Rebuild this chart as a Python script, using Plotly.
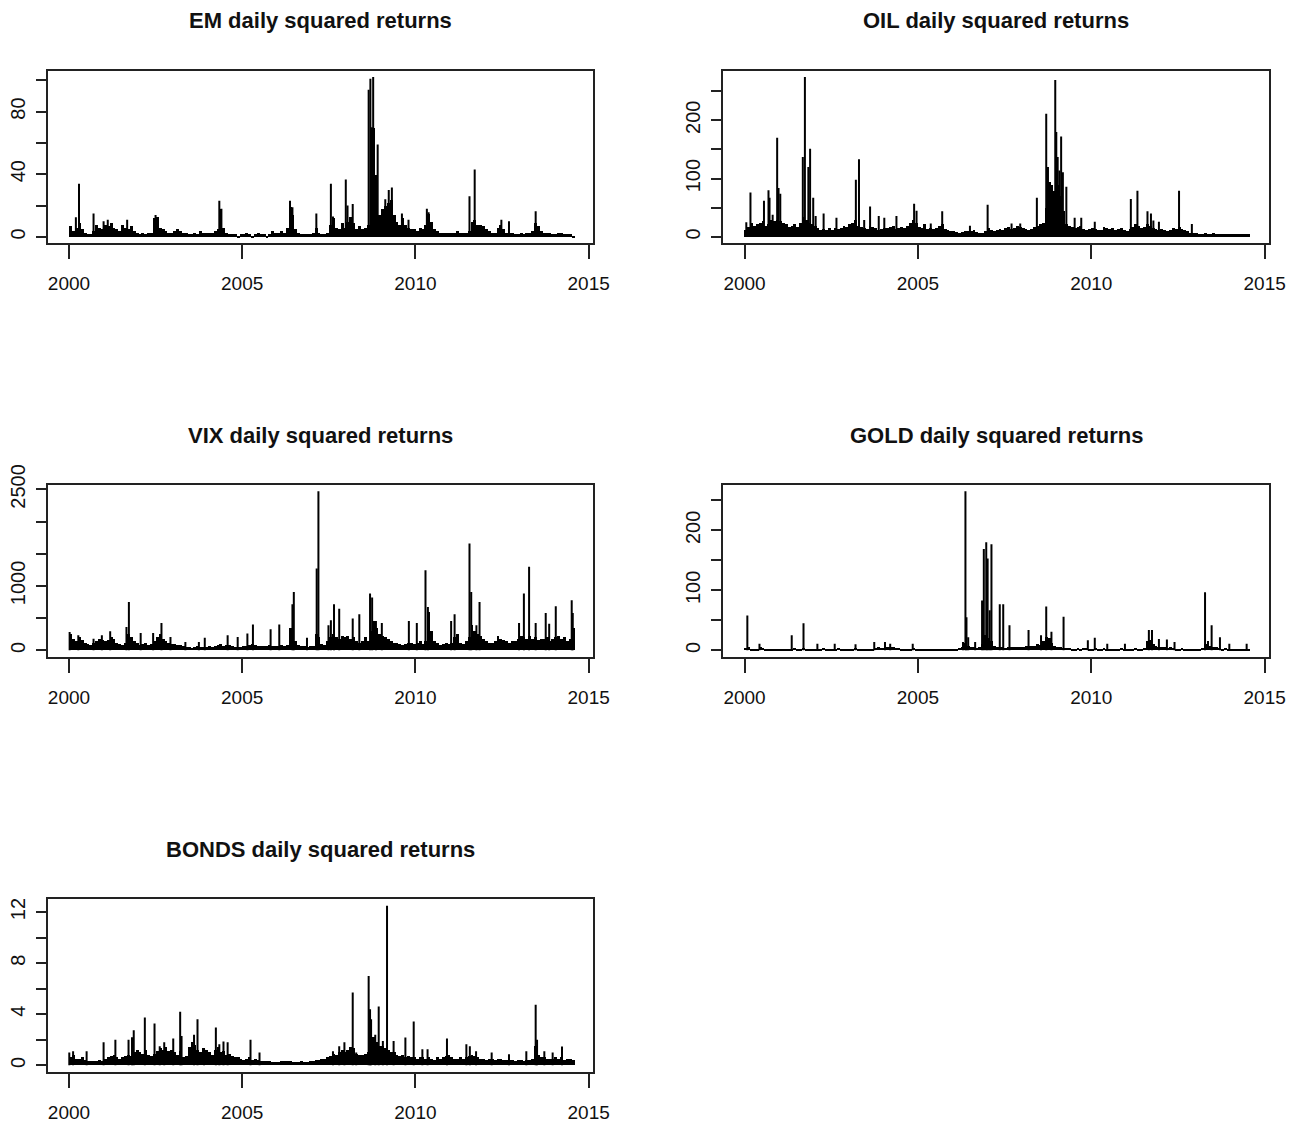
import plotly.graph_objects as go

# ---------------- data ----------------
# monthly "body" level of the squared-return forest, Jan 2000 .. Jul 2014
em_monthly = [
    7, 4, 6, 9, 5, 3, 2, 2, 4, 8, 6, 5,
    8, 7, 9, 6, 5, 4, 8, 6, 5, 7, 4, 3,
    2, 3, 2, 3, 3, 12, 13, 6, 5, 4, 3, 3,
    4, 5, 4, 3, 3, 2, 2, 3, 2, 4, 3, 3,
    3, 3, 4, 5, 18, 6, 3, 2, 2, 2, 1, 2,
    2, 3, 2, 1, 2, 3, 2, 2, 1, 2, 4, 3,
    3, 4, 3, 6, 19, 14, 5, 3, 2, 2, 2, 2,
    3, 6, 3, 2, 2, 3, 8, 12, 6, 5, 9, 6,
    10, 13, 9, 5, 7, 5, 6, 8, 25, 70, 40, 14,
    18, 20, 22, 24, 14, 10, 8, 12, 8, 6, 5, 5,
    4, 6, 5, 8, 15, 10, 5, 4, 3, 3, 3, 3,
    3, 3, 4, 3, 3, 3, 4, 10, 11, 8, 8, 7,
    5, 4, 3, 3, 6, 8, 5, 3, 3, 3, 2, 2,
    3, 2, 3, 3, 4, 9, 7, 4, 3, 3, 3, 2,
    2, 3, 3, 2, 2, 2, 1,
]
em_spike_t = [2000.20, 2000.29, 2000.71, 2001.00, 2001.12, 2001.68, 2002.50, 2004.34,
              2004.40, 2006.38, 2006.45, 2007.14, 2007.56, 2007.62, 2007.99, 2008.04,
              2008.19, 2008.65, 2008.70, 2008.74, 2008.78, 2008.91, 2009.13, 2009.23,
              2009.32, 2009.61, 2009.80, 2010.33, 2010.38, 2011.56, 2011.71, 2012.48,
              2012.70, 2013.47]
em_spike_v = [12.5, 34, 15, 10, 11, 11, 14, 23,
              18, 23, 19, 15, 34, 13, 36.6, 20,
              21, 94, 101, 70, 102, 59, 24, 30,
              31.5, 15, 11, 18, 15.7, 26, 43, 11,
              10, 16.4]

oil_monthly = [
    12, 18, 25, 20, 22, 25, 28, 20, 22, 30, 28, 30,
    28, 25, 22, 18, 20, 22, 18, 25, 35, 30, 25, 22,
    20, 15, 12, 14, 12, 15, 12, 15, 14, 15, 20, 18,
    22, 25, 30, 20, 18, 15, 14, 20, 18, 15, 12, 14,
    16, 15, 18, 20, 14, 15, 18, 16, 20, 25, 30, 25,
    18, 16, 22, 14, 15, 14, 16, 20, 22, 14, 12, 10,
    10, 9, 8, 9, 10, 11, 10, 12, 9, 8, 8, 10,
    15, 12, 10, 12, 14, 12, 15, 18, 14, 16, 20, 18,
    15, 14, 12, 14, 18, 20, 22, 25, 50, 95, 90, 80,
    90, 70, 45, 22, 20, 18, 16, 18, 20, 14, 12, 14,
    15, 14, 12, 12, 18, 16, 14, 15, 12, 14, 15, 12,
    10, 14, 18, 22, 20, 15, 18, 22, 20, 16, 14, 12,
    14, 12, 10, 12, 16, 14, 18, 14, 12, 10, 8, 8,
    7, 6, 6, 7, 6, 6, 7, 6, 5, 6, 5, 5,
    5, 5, 6, 5, 5, 5, 5,
]
oil_spike_t = [2000.05, 2000.17, 2000.56, 2000.69, 2000.72, 2000.81, 2000.94, 2000.98,
               2001.03, 2001.68, 2001.74, 2001.84, 2001.89, 2001.98, 2002.05, 2002.28,
               2002.65, 2003.21, 2003.30, 2003.45, 2003.62, 2003.87, 2004.03, 2004.38,
               2004.89, 2004.96, 2005.37, 2005.70, 2006.50, 2007.01, 2007.70, 2007.95,
               2008.43, 2008.70, 2008.75, 2008.83, 2008.96, 2008.99, 2009.03, 2009.08,
               2009.13, 2009.18, 2009.28, 2009.52, 2009.71, 2010.10, 2011.14, 2011.33,
               2011.62, 2011.72, 2011.79, 2011.95, 2012.53, 2012.90]
oil_spike_v = [25, 76, 62, 80, 67, 38, 170, 84,
               74, 137, 274, 120, 151, 67, 36, 40,
               33, 98, 133, 29, 52, 36, 33, 36,
               57, 45, 23, 44, 19, 55, 23, 23,
               67, 211, 120, 56, 269, 180, 137, 114,
               172, 111, 86, 33, 33, 26, 65, 79,
               44, 40, 28, 26, 79, 22]

vix_monthly = [
    250, 180, 150, 200, 160, 120, 100, 80, 120, 140, 180, 160,
    150, 160, 200, 180, 120, 100, 90, 120, 250, 200, 150, 120,
    80, 100, 120, 80, 100, 150, 200, 250, 180, 150, 120, 100,
    100, 80, 90, 60, 50, 45, 40, 45, 60, 50, 55, 50,
    60, 55, 70, 80, 100, 70, 90, 80, 60, 55, 50, 45,
    60, 70, 80, 100, 90, 70, 60, 65, 60, 80, 70, 60,
    70, 80, 60, 90, 350, 250, 150, 90, 70, 60, 55, 60,
    70, 250, 200, 100, 80, 150, 200, 250, 200, 180, 220, 200,
    220, 180, 200, 150, 120, 140, 200, 150, 300, 450, 350, 250,
    220, 200, 180, 150, 120, 110, 100, 90, 100, 120, 110, 100,
    120, 150, 100, 150, 600, 300, 150, 110, 90, 100, 110, 100,
    120, 200, 250, 120, 100, 150, 200, 400, 300, 250, 220, 180,
    150, 120, 110, 150, 220, 180, 160, 150, 120, 140, 150, 180,
    220, 200, 180, 220, 180, 200, 160, 170, 180, 200, 150, 180,
    200, 220, 180, 200, 150, 180, 350,
]
vix_spike_t = [2000.02, 2000.27, 2000.71, 2000.95, 2001.19, 2001.66, 2001.73, 2002.07,
               2002.43, 2002.67, 2002.93, 2003.36, 2003.75, 2003.92, 2004.58, 2004.87,
               2005.15, 2005.31, 2005.82, 2006.07, 2006.45, 2006.49, 2006.87, 2007.15,
               2007.20, 2007.49, 2007.56, 2007.65, 2007.80, 2008.19, 2008.38, 2008.69,
               2008.75, 2008.86, 2009.03, 2009.81, 2010.04, 2010.29, 2010.36, 2011.03,
               2011.13, 2011.56, 2011.61, 2011.76, 2011.85, 2012.99, 2013.13, 2013.28,
               2013.47, 2013.76, 2013.86, 2014.05, 2014.51, 2014.54]
vix_spike_v = [285, 233, 180, 233, 295, 363, 752, 270,
               270, 425, 207, 130, 130, 197, 233, 207,
               260, 400, 327, 400, 716, 907, 197, 1270,
               2470, 389, 467, 716, 648, 493, 560, 882,
               820, 456, 425, 456, 425, 1245, 674, 456,
               560, 1660, 907, 389, 752, 425, 882, 1297,
               425, 581, 415, 685, 778, 581]

gold_monthly = [
    4, 6, 3, 2, 3, 5, 4, 3, 2, 2, 2, 2,
    2, 2, 2, 2, 3, 4, 2, 3, 4, 3, 2, 2,
    2, 2, 3, 4, 3, 3, 2, 3, 4, 3, 2, 3,
    3, 3, 4, 3, 2, 3, 2, 2, 3, 4, 5, 4,
    4, 5, 6, 5, 4, 4, 3, 3, 2, 3, 4, 3,
    2, 2, 3, 2, 2, 2, 3, 2, 2, 3, 2, 3,
    3, 3, 4, 5, 12, 8, 6, 5, 4, 6, 10, 25,
    20, 15, 8, 6, 5, 5, 4, 5, 5, 6, 6, 5,
    6, 7, 8, 7, 8, 10, 9, 15, 22, 20, 12, 8,
    6, 5, 4, 4, 4, 3, 3, 4, 3, 4, 4, 3,
    3, 4, 3, 3, 4, 3, 3, 3, 3, 3, 4, 3,
    3, 3, 3, 4, 3, 3, 4, 15, 18, 10, 7, 6,
    5, 5, 4, 5, 4, 3, 3, 4, 3, 3, 3, 3,
    3, 3, 4, 10, 15, 8, 6, 5, 4, 3, 4, 3,
    3, 3, 3, 3, 2, 2, 3,
]
gold_spike_t = [2000.08, 2000.43, 2001.36, 2001.70, 2002.10, 2002.60, 2003.20, 2003.74,
                2004.05, 2004.20, 2004.85, 2006.30, 2006.37, 2006.40, 2006.45, 2006.65,
                2006.85, 2006.90, 2006.97, 2007.01, 2007.07, 2007.12, 2007.36, 2007.46,
                2007.64, 2008.19, 2008.55, 2008.70, 2008.85, 2009.20, 2009.90, 2010.10,
                2010.46, 2010.97, 2011.66, 2011.75, 2011.95, 2012.18, 2012.40, 2013.28,
                2013.47, 2013.71, 2013.98, 2014.48]
gold_spike_v = [58, 11, 25, 45, 11, 11, 10, 14,
                14, 11, 11, 14, 265, 55, 22, 14,
                83, 169, 180, 153, 67, 177, 77, 77,
                42, 34, 25, 73, 31, 56, 17, 21,
                11, 11, 34, 34, 19, 18, 14, 97,
                42, 22, 11, 11]

bonds_monthly = [
    0.6, 0.8, 0.5, 0.5, 0.6, 0.4, 0.3, 0.3, 0.3, 0.3, 0.4, 0.3,
    0.5, 0.6, 0.7, 0.8, 0.6, 0.5, 0.6, 0.7, 0.8, 0.7, 1.0, 1.2,
    1.0, 0.9, 1.2, 0.8, 0.7, 0.9, 1.1, 1.3, 1.2, 1.4, 1.1, 1.2,
    1.0, 0.8, 1.1, 0.6, 0.7, 1.4, 1.8, 1.6, 1.2, 1.0, 1.3, 1.2,
    1.0, 0.8, 1.2, 1.4, 1.0, 1.1, 0.8, 0.9, 0.7, 0.6, 0.6, 0.5,
    0.4, 0.5, 0.6, 0.4, 0.5, 0.4, 0.3, 0.3, 0.3, 0.3, 0.2, 0.2,
    0.2, 0.3, 0.3, 0.3, 0.3, 0.2, 0.2, 0.2, 0.3, 0.2, 0.2, 0.3,
    0.3, 0.4, 0.4, 0.5, 0.5, 0.6, 0.7, 0.9, 0.8, 1.0, 1.2, 1.0,
    1.2, 1.4, 1.3, 0.9, 0.8, 0.8, 0.9, 1.0, 2.5, 2.2, 1.8, 1.5,
    1.5, 1.3, 1.2, 1.0, 1.0, 0.8, 0.7, 0.8, 0.6, 0.7, 0.6, 0.6,
    0.5, 0.6, 0.6, 0.5, 0.6, 0.5, 0.4, 0.6, 0.5, 0.6, 0.7, 0.8,
    0.6, 0.5, 0.5, 0.6, 0.5, 0.6, 0.7, 0.8, 0.7, 0.6, 0.5, 0.5,
    0.4, 0.5, 0.5, 0.4, 0.5, 0.5, 0.4, 0.4, 0.4, 0.4, 0.3, 0.4,
    0.4, 0.3, 0.4, 0.4, 0.5, 1.5, 0.8, 0.6, 0.6, 0.5, 0.5, 0.5,
    0.6, 0.5, 0.6, 0.4, 0.5, 0.5, 0.4,
]
bonds_spike_t = [2000.01, 2000.12, 2000.51, 2001.00, 2001.34, 2001.72, 2001.82, 2001.87,
                 2002.19, 2002.47, 2002.62, 2002.75, 2003.01, 2003.21, 2003.25, 2003.61,
                 2003.71, 2003.90, 2004.24, 2004.34, 2004.46, 2004.58, 2005.24, 2005.50,
                 2007.62, 2007.80, 2007.95, 2008.19, 2008.29, 2008.65, 2008.69, 2008.72,
                 2008.84, 2008.94, 2009.06, 2009.18, 2009.37, 2009.71, 2009.95, 2010.20,
                 2010.35, 2010.91, 2011.47, 2011.57, 2011.75, 2012.20, 2012.70, 2013.20,
                 2013.47, 2013.51, 2013.72, 2013.96, 2014.23]
bonds_spike_v = [1.0, 1.1, 1.1, 1.8, 2.0, 2.0, 2.2, 2.75,
                 3.75, 3.27, 1.5, 1.8, 2.1, 4.2, 2.3, 2.4,
                 3.6, 1.3, 2.96, 1.65, 1.86, 1.8, 2.0, 1.0,
                 1.1, 1.5, 1.8, 5.7, 1.0, 7.0, 4.4, 3.6,
                 2.4, 4.6, 1.9, 12.5, 1.9, 2.17, 3.43, 1.26,
                 1.26, 2.1, 1.65, 1.5, 1.1, 1.0, 0.87, 1.1,
                 4.74, 2.0, 1.1, 1.0, 1.47]

titles = ["EM daily squared returns", "OIL daily squared returns",
          "VIX daily squared returns", "GOLD daily squared returns",
          "BONDS daily squared returns"]

x_tickvals = [2000, 2005, 2010, 2015]
x_ticktext = ["2000", "2005", "2010", "2015"]

em_yticks = [0, 20, 40, 60, 80, 100]
em_ylabels = ["0", "", "40", "", "80", ""]
oil_yticks = [0, 50, 100, 150, 200, 250]
oil_ylabels = ["0", "", "100", "", "200", ""]
vix_yticks = [0, 500, 1000, 1500, 2000, 2500]
vix_ylabels = ["0", "", "1000", "", "", "2500"]
gold_yticks = [0, 50, 100, 150, 200, 250]
gold_ylabels = ["0", "", "100", "", "200", ""]
bonds_yticks = [0, 2, 4, 6, 8, 10, 12]
bonds_ylabels = ["0", "", "4", "", "8", "", "12"]

first_obs = 1999.97
last_obs = 2014.55

# ---------------- figure ----------------
# the page body has an 8px margin, so the figure sits at (8, 8) in the window
OFF = 8
W, H = 1303 - OFF, 1128 - OFF
panels = [
    (em_monthly, em_spike_t, em_spike_v, em_yticks, em_ylabels, (47.7, 593.3), (70.7, 243.3)),
    (oil_monthly, oil_spike_t, oil_spike_v, oil_yticks, oil_ylabels, (723.3, 1269.3), (70.7, 243.3)),
    (vix_monthly, vix_spike_t, vix_spike_v, vix_yticks, vix_ylabels, (47.7, 593.3), (485.0, 656.7)),
    (gold_monthly, gold_spike_t, gold_spike_v, gold_yticks, gold_ylabels, (723.3, 1269.3), (485.0, 656.7)),
    (bonds_monthly, bonds_spike_t, bonds_spike_v, bonds_yticks, bonds_ylabels, (47.7, 593.3), (899.3, 1071.7)),
]

fig = go.Figure()
span = last_obs - first_obs
xr = [first_obs - 0.04 * span, last_obs + 0.04 * span]
tick_font_x = dict(family="Liberation Sans, Arial", size=19, color="#111")
tick_font_y = dict(family="Liberation Sans, Arial", size=20, color="#111")
title_font = dict(family="Liberation Sans, Arial", size=22, color="#111")

layout = dict(width=W, height=H, margin=dict(l=0, r=0, t=0, b=0, autoexpand=False),
              paper_bgcolor="white", plot_bgcolor="white", showlegend=False,
              bargap=0, barmode="overlay", template="none")
annotations = []

for i, (monthly, st, sv, yt, yl, (x0, x1), (y0, y1)) in enumerate(panels):
    k = "" if i == 0 else str(i + 1)
    xa, ya = "x" + k, "y" + k
    px0, px1, py0, py1 = x0 - OFF, x1 - OFF, y0 - OFF, y1 - OFF
    mx = [2000 + (m + 0.5) / 12 for m in range(len(monthly))]
    fig.add_trace(go.Bar(x=mx, y=monthly, width=1 / 12, xaxis=xa, yaxis=ya,
                         marker=dict(color="black", line=dict(width=0)), hoverinfo="skip"))
    xs, ys = [], []
    for t, v in zip(st, sv):
        xs += [t, t, None]
        ys += [0, v, None]
    fig.add_trace(go.Scatter(x=xs, y=ys, mode="lines", xaxis=xa, yaxis=ya,
                             line=dict(color="black", width=2), hoverinfo="skip"))
    M = max(max(monthly), max(sv))
    yr = [-0.04 * M, 1.04 * M]
    layout["xaxis" + k] = dict(domain=[px0 / W, px1 / W], range=xr, anchor=ya, automargin=False,
                               showgrid=False, zeroline=False,
                               showline=True, mirror=True, linecolor="#222", linewidth=2,
                               ticks="outside", ticklen=14, tickwidth=2, tickcolor="#222",
                               tickvals=x_tickvals, ticktext=x_ticktext,
                               tickfont=tick_font_x, ticklabelstandoff=8)
    layout["yaxis" + k] = dict(domain=[1 - py1 / H, 1 - py0 / H], range=yr, anchor=xa, automargin=False,
                               showgrid=False, zeroline=False,
                               showline=True, mirror=True, linecolor="#222", linewidth=2,
                               ticks="outside", ticklen=10, tickwidth=2, tickcolor="#222",
                               tickvals=yt, ticktext=yl, tickangle=-90,
                               tickfont=tick_font_y, ticklabelstandoff=3)
    annotations.append(dict(text="<b>" + titles[i] + "</b>", xref="paper", yref="paper",
                            x=(px0 + px1) / 2 / W, y=1 - (py0 - 50) / H,
                            xanchor="center", yanchor="middle", showarrow=False,
                            font=title_font))

layout["annotations"] = annotations
fig.update_layout(**layout)
fig.write_html("out.html")
